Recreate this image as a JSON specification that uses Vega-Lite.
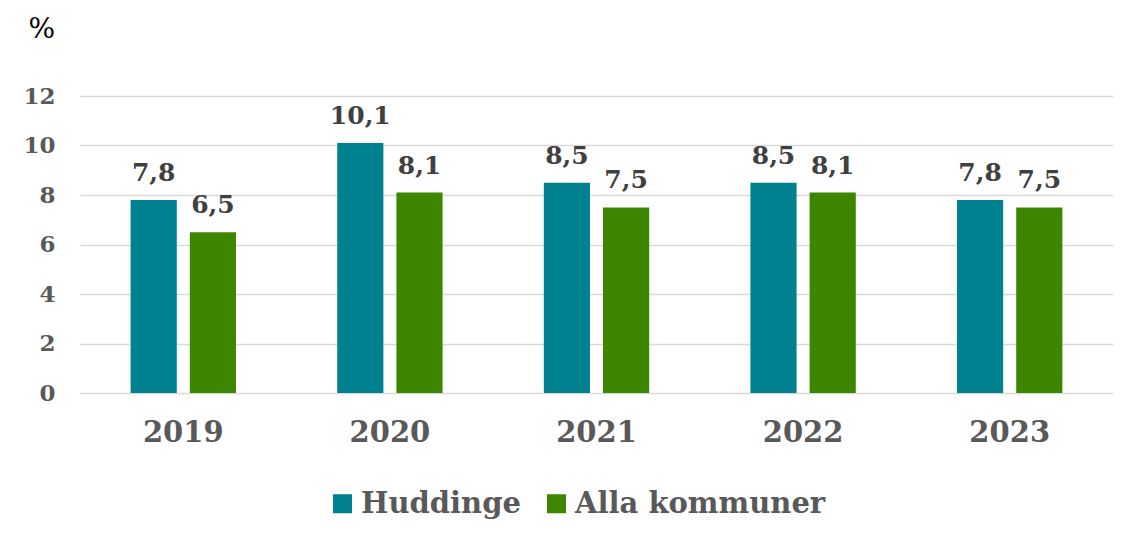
{
  "$schema": "https://vega.github.io/schema/vega-lite/v6.json",
  "width": 1033,
  "height": 297,
  "autosize": {"type": "none"},
  "padding": {"left": 80, "top": 96, "right": 25, "bottom": 147},
  "background": "white",
  "config": {
    "view": {"stroke": null},
    "font": "DejaVu Serif",
    "text": {"font": "DejaVu Serif"}
  },
  "data": {
    "values": [
      {"year": "2019", "serie": "Huddinge", "value": 7.8, "label": "7,8"},
      {"year": "2019", "serie": "Alla kommuner", "value": 6.5, "label": "6,5"},
      {"year": "2020", "serie": "Huddinge", "value": 10.1, "label": "10,1"},
      {"year": "2020", "serie": "Alla kommuner", "value": 8.1, "label": "8,1"},
      {"year": "2021", "serie": "Huddinge", "value": 8.5, "label": "8,5"},
      {"year": "2021", "serie": "Alla kommuner", "value": 7.5, "label": "7,5"},
      {"year": "2022", "serie": "Huddinge", "value": 8.5, "label": "8,5"},
      {"year": "2022", "serie": "Alla kommuner", "value": 8.1, "label": "8,1"},
      {"year": "2023", "serie": "Huddinge", "value": 7.8, "label": "7,8"},
      {"year": "2023", "serie": "Alla kommuner", "value": 7.5, "label": "7,5"}
    ]
  },
  "encoding": {
    "x": {
      "field": "year", "type": "nominal",
      "scale": {"paddingInner": 0.49, "paddingOuter": 0.245},
      "axis": {
        "title": null, "labelAngle": 0, "ticks": false, "domain": false,
        "labelFont": "DejaVu Serif", "labelFontSize": 29, "labelFontWeight": "bold",
        "labelColor": "#595959", "labelPadding": 25, "labelBaseline": "top"
      }
    },
    "xOffset": {
      "field": "serie", "type": "nominal",
      "sort": ["Huddinge", "Alla kommuner"],
      "scale": {"paddingInner": 0.22, "paddingOuter": 0}
    },
    "y": {
      "field": "value", "type": "quantitative",
      "scale": {"domain": [0, 12], "nice": false},
      "axis": {
        "values": [0, 2, 4, 6, 8, 10, 12],
        "title": "%", "titleAngle": 0, "titleX": -52, "titleY": -59,
        "titleAlign": "left", "titleBaseline": "alphabetic",
        "titleFont": "DejaVu Serif", "titleFontSize": 28, "titleFontWeight": "normal",
        "titleColor": "#000000",
        "ticks": false, "domain": false,
        "grid": true, "gridColor": "#d9d9d9", "gridWidth": 1.5,
        "labelFont": "DejaVu Serif", "labelFontSize": 23, "labelFontWeight": "bold",
        "labelColor": "#595959", "labelPadding": 25
      }
    }
  },
  "layer": [
    {
      "mark": {"type": "bar"},
      "encoding": {
        "color": {
          "field": "serie", "type": "nominal",
          "sort": ["Huddinge", "Alla kommuner"],
          "scale": {"domain": ["Huddinge", "Alla kommuner"], "range": ["#00818F", "#3D8600"]},
          "legend": {
            "title": null, "orient": "none", "direction": "horizontal",
            "legendX": 248, "legendY": 393,
            "symbolType": "square", "symbolSize": 361, "symbolStrokeWidth": 0,
            "labelFont": "DejaVu Serif", "labelFontSize": 29, "labelFontWeight": "bold",
            "labelColor": "#595959", "labelOffset": 4, "columnPadding": 21,
            "labelLimit": 400
          }
        }
      }
    },
    {
      "mark": {
        "type": "text", "baseline": "alphabetic", "dy": -19,
        "font": "DejaVu Serif", "fontSize": 25, "fontWeight": "bold", "color": "#404040"
      },
      "encoding": {"text": {"field": "label"}}
    }
  ]
}
